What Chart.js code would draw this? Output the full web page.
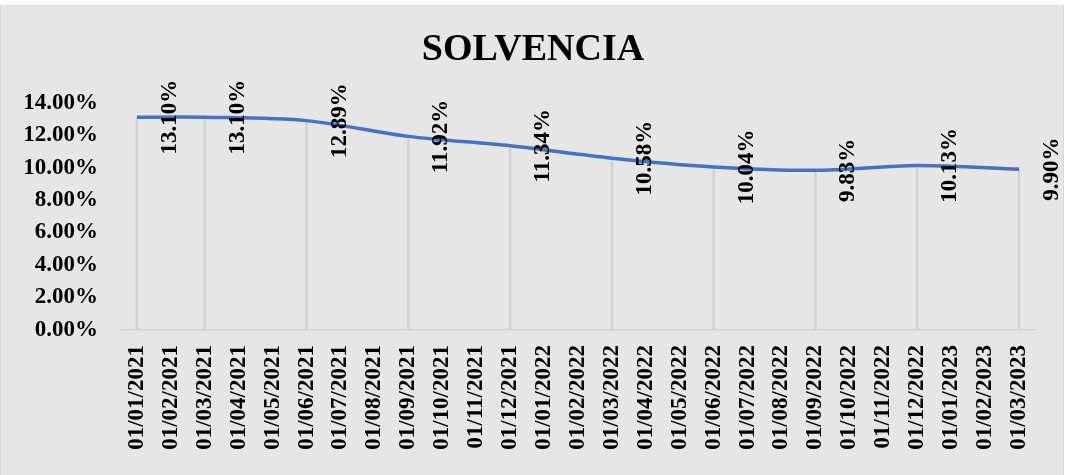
<!DOCTYPE html>
<html>
<head>
<meta charset="utf-8">
<script src="https://cdn.jsdelivr.net/npm/chart.js@4.4.1/dist/chart.umd.min.js"></script>
<style>
  html, body { margin: 0; padding: 0; background: #ffffff; }
  #frame { position: absolute; left: 0; top: 5px; width: 1062px; height: 470px;
           background: #e6e6e6; border-left: 1px solid #d6d6d6; border-right: 1px solid #d6d6d6; border-top: 1px solid #dcdcdc; }
  #wrap { position: absolute; left: 0; top: 0; width: 1066px; height: 475px; }
</style>
</head>
<body>
<div id="frame"></div>
<div id="wrap"><canvas id="c" width="1066" height="475"></canvas></div>
<script>
const chartTitle = 'SOLVENCIA';
const categories = [
  '01/01/2021','01/02/2021','01/03/2021','01/04/2021','01/05/2021','01/06/2021',
  '01/07/2021','01/08/2021','01/09/2021','01/10/2021','01/11/2021','01/12/2021',
  '01/01/2022','01/02/2022','01/03/2022','01/04/2022','01/05/2022','01/06/2022',
  '01/07/2022','01/08/2022','01/09/2022','01/10/2022','01/11/2022','01/12/2022',
  '01/01/2023','01/02/2023','01/03/2023'
];
const solvencia = [
  13.10, null, 13.10, null, null, 12.89, null, null, 11.92, null, null, 11.34,
  null, null, 10.58, null, null, 10.04, null, null, 9.83, null, null, 10.13,
  null, null, 9.90
];
const yTickMax = 14;
const yTickStep = 2;

const serif = '"Liberation Serif", "Times New Roman", serif';

const labelPlugin = {
  id: 'rotLabels',
  afterDatasetsDraw(chart) {
    const meta = chart.getDatasetMeta(0);
    const ctx = chart.ctx;
    ctx.save();
    ctx.font = 'bold 23px ' + serif;
    ctx.fillStyle = '#000000';
    ctx.textAlign = 'center';
    ctx.textBaseline = 'middle';
    meta.data.forEach((pt, i) => {
      const v = solvencia[i];
      if (v === null || v === undefined) return;
      ctx.save();
      ctx.translate(pt.x + 33, pt.y);
      ctx.rotate(-Math.PI / 2);
      ctx.fillText(v.toFixed(2) + '%', 0, 0);
      ctx.restore();
    });
    ctx.restore();
  }
};

new Chart(document.getElementById('c'), {
  data: {
    labels: categories,
    datasets: [
      {
        type: 'line',
        label: 'Solvencia',
        data: solvencia,
        borderColor: '#4472c4',
        backgroundColor: '#4472c4',
        borderWidth: 3.5,
        pointRadius: 0,
        tension: 0.3,
        spanGaps: true,
        order: 0,
        clip: false,
        yAxisID: 'y'
      },
      {
        type: 'bar',
        label: 'drop',
        data: solvencia,
        backgroundColor: '#d3d3d3',
        borderWidth: 0,
        barThickness: 2,
        order: 1,
        yAxisID: 'y'
      }
    ]
  },
  options: {
    responsive: false,
    animation: false,
    devicePixelRatio: 1,
    layout: { padding: { top: 0, left: 0, right: 0, bottom: 0 } },
    plugins: {
      legend: { display: false },
      tooltip: { enabled: false },
      title: {
        display: true,
        text: chartTitle,
        color: '#000000',
        font: { family: serif, size: 38, weight: 'bold', lineHeight: 1.2 },
        padding: { top: 27, bottom: 30 }
      }
    },
    scales: {
      x: {
        type: 'category',
        offset: true,
        grid: { display: false, drawTicks: false },
        border: { display: true, color: '#d4d4d4', width: 1.5 },
        ticks: {
          autoSkip: false,
          minRotation: 90,
          maxRotation: 90,
          padding: 15,
          color: '#000000',
          font: { family: serif, size: 23, weight: 'bold' }
        },
        afterFit(scale) { scale.height = 145; }
      },
      y: {
        position: 'left',
        min: 0,
        max: yTickMax,
        grid: { display: false, drawTicks: false },
        border: { display: false },
        ticks: {
          stepSize: yTickStep,
          padding: 22,
          color: '#000000',
          font: { family: serif, size: 23, weight: 'bold' },
          callback: (v) => Number(v).toFixed(2) + '%'
        },
        afterFit(scale) { scale.width = 120; }
      },
      yRightSpace: {
        position: 'right',
        display: true,
        min: 0,
        max: 1,
        grid: { display: false, drawTicks: false },
        border: { display: false },
        ticks: { display: false },
        afterFit(scale) { scale.width = 30; }
      }
    }
  },
  plugins: [labelPlugin]
});
</script>
</body>
</html>
